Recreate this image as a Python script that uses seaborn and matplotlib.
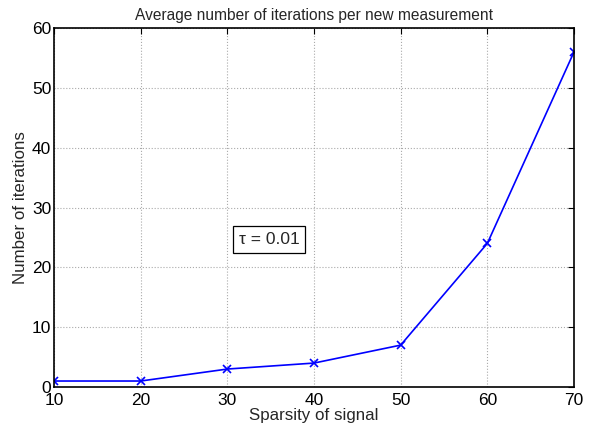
import matplotlib
matplotlib.use("Agg")
import matplotlib.pyplot as plt
import seaborn as sns
import pandas as pd

sparsity = [10, 20, 30, 40, 50, 60, 70]
iterations = [1, 1, 3, 4, 7, 24, 56]
xticks = [10, 20, 30, 40, 50, 60, 70]
yticks = [0, 10, 20, 30, 40, 50, 60]

sns.set_style("white")
plt.rcParams['font.family'] = ['Liberation Sans', 'DejaVu Sans']

df = pd.DataFrame({"Sparsity": sparsity, "Iterations": iterations})

fig = plt.figure(figsize=(5.97, 4.30), dpi=100)
ax = fig.add_axes([54/597, 1-387/430, 520/597, 359/430])
sns.lineplot(data=df, x="Sparsity", y="Iterations", ax=ax, color="blue",
             marker="x", markersize=6, markeredgewidth=1.2, linewidth=1.2,
             markeredgecolor="blue")
ax.set_xlim(10, 70)
ax.set_ylim(0, 60)
ax.set_xticks(xticks)
ax.set_yticks(yticks)
ax.grid(True, linestyle=":", color="#aaaaaa", linewidth=0.8)
for s in ax.spines.values():
    s.set_color("black")
    s.set_linewidth(1.2)
    s.set_visible(True)
ax.tick_params(direction="in", length=4, width=0.8, top=True, right=True,
               labelsize=12.5, colors="black")
ax.tick_params(axis="x", pad=4.5)
ax.tick_params(axis="y", pad=2)
ax.set_xlabel("Sparsity of signal", fontsize=12.2, labelpad=-0.5)
ax.set_ylabel("Number of iterations", fontsize=12.2, labelpad=3)
ax.set_title("Average number of iterations per new measurement", fontsize=11.2, pad=6)
ax.text(31.3, 24.6, "τ = 0.01", fontsize=12.5, va="center", ha="left",
        bbox=dict(boxstyle="square,pad=0.35", fc="white", ec="black", lw=0.9))

fig.savefig("out.png", dpi=100)
